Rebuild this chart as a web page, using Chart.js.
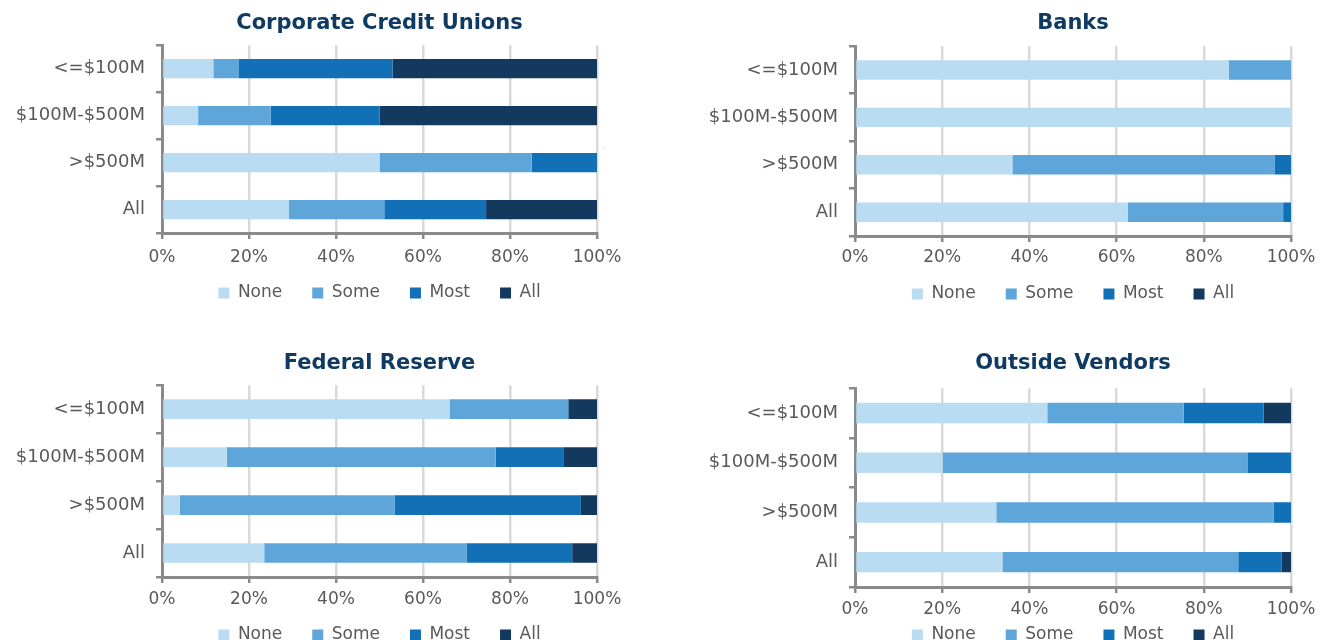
<!DOCTYPE html>
<html>
<head>
<meta charset="utf-8">
<script src="https://cdn.jsdelivr.net/npm/chart.js@4.4.0/dist/chart.umd.min.js"></script>
<style>
  body { margin: 0; background: #fff; overflow: hidden; }
  .box { position: absolute; }
</style>
</head>
<body>
<div class="box" style="left:0;top:0;width:667px;height:340px"><canvas id="ccuChart"></canvas></div>
<div class="box" style="left:667px;top:0;width:668px;height:340px"><canvas id="banksChart"></canvas></div>
<div class="box" style="left:0;top:340px;width:667px;height:340px"><canvas id="fedChart"></canvas></div>
<div class="box" style="left:667px;top:340px;width:668px;height:340px"><canvas id="vendorChart"></canvas></div>
<script>
// Asset size groups and answer options
const categories = ['<=$100M', '$100M-$500M', '>$500M', 'All'];
const seriesNames = ['None', 'Some', 'Most', 'All'];
const xTicks = [0, 20, 40, 60, 80, 100];

// Corporate Credit Unions (% of respondents)
const ccuNone = [11.8, 8.3, 50.0, 29.2];
const ccuSome = [5.9, 16.7, 35.0, 21.9];
const ccuMost = [35.3, 25.0, 15.0, 23.4];
const ccuAll = [47.0, 50.0, 0, 25.5];

// Banks
const banksNone = [85.7, 100, 36.1, 62.6];
const banksSome = [14.3, 0, 60.1, 35.6];
const banksMost = [0, 0, 3.8, 1.8];
const banksAll = [0, 0, 0, 0];

// Federal Reserve
const fedNone = [66.1, 14.9, 4.1, 23.5];
const fedSome = [27.3, 61.8, 49.4, 46.5];
const fedMost = [0, 15.7, 42.8, 24.3];
const fedAll = [6.6, 7.6, 3.7, 5.7];

// Outside Vendors
const vendNone = [44.1, 20.1, 32.4, 33.8];
const vendSome = [31.3, 69.9, 63.6, 54.1];
const vendMost = [18.3, 10.0, 4.0, 10.0];
const vendAll = [6.3, 0, 0, 2.1];

const colors = ['#badcf3', '#5ea6da', '#1270b7', '#13395f'];
const axisGray = '#8a8a8a';
const textGray = '#595959';

Chart.defaults.font.family = '"DejaVu Sans", sans-serif';
Chart.defaults.animation = false;
Chart.defaults.responsive = true;
Chart.defaults.maintainAspectRatio = false;

// title and legend are centred over the plot area, like the Excel original,
// and the legend row is moved up to sit just under the tick labels
const centerOnArea = {
    id: 'centerOnArea',
    afterLayout(chart, args, opts) {
        const a = chart.chartArea;
        [chart.titleBlock, chart.legend].forEach(b => {
            if (b) {
                b.left = a.left;
                b.right = a.right;
                b.width = a.right - a.left;
            }
        });
        if (chart.legend && opts.legendY) {
            const h = chart.legend.height;
            chart.legend.top = opts.legendY - 36.5;
            chart.legend.bottom = chart.legend.top + h;
        }
    }
};

function makeChart(canvasId, title, values, lay) {
    const datasets = values.map((vals, i) => ({
        label: seriesNames[i],
        data: vals,
        backgroundColor: colors[i],
        borderWidth: 0,
        categoryPercentage: 1,
        barPercentage: 0.41
    }));

    new Chart(document.getElementById(canvasId), {
        type: 'bar',
        data: { labels: categories, datasets: datasets },
        plugins: [centerOnArea],
        options: {
            indexAxis: 'y',
            layout: { padding: { left: 0, right: lay.right, top: 0, bottom: lay.bottom } },
            plugins: {
                centerOnArea: { legendY: lay.legendY },
                title: {
                    display: true,
                    text: title,
                    color: '#0f3b63',
                    font: { size: 21, weight: 'bold' },
                    padding: { top: lay.titleTop, bottom: lay.titleBottom }
                },
                legend: {
                    position: 'bottom',
                    labels: {
                        boxWidth: 11,
                        boxHeight: 11,
                        padding: 30,
                        color: textGray,
                        font: { size: 17 }
                    }
                },
                tooltip: { enabled: false }
            },
            scales: {
                x: {
                    stacked: true,
                    min: 0,
                    max: 100,
                    afterBuildTicks: axis => { axis.ticks = xTicks.map(v => ({ value: v })); },
                    afterFit: axis => { axis.height = lay.xHeight; },
                    ticks: {
                        color: textGray,
                        font: { size: 17 },
                        padding: lay.tickPad,
                        maxRotation: 0,
                        callback: v => v + '%'
                    },
                    grid: {
                        color: '#d9d9d9',
                        lineWidth: 2.5,
                        tickColor: axisGray,
                        tickLength: 6
                    },
                    border: { color: axisGray, width: 3 }
                },
                y: {
                    stacked: true,
                    afterFit: axis => { axis.width = lay.yWidth; },
                    ticks: {
                        color: textGray,
                        font: { size: 18 },
                        padding: 11
                    },
                    grid: {
                        drawOnChartArea: false,
                        color: axisGray,
                        lineWidth: 2.5,
                        tickLength: 6
                    },
                    border: { color: axisGray, width: 3 }
                }
            }
        }
    });
}

makeChart('ccuChart', 'Corporate Credit Unions', [ccuNone, ccuSome, ccuMost, ccuAll],
    { yWidth: 162, right: 70, titleTop: 11, titleBottom: 9, xHeight: 38, tickPad: 8, bottom: 12, legendY: 291 });
makeChart('banksChart', 'Banks', [banksNone, banksSome, banksMost, banksAll],
    { yWidth: 188, right: 44, titleTop: 11, titleBottom: 10, xHeight: 38, tickPad: 5, bottom: 9, legendY: 292 });
makeChart('fedChart', 'Federal Reserve', [fedNone, fedSome, fedMost, fedAll],
    { yWidth: 162, right: 70, titleTop: 11, titleBottom: 9, xHeight: 38, tickPad: 6, bottom: 8, legendY: 293 });
makeChart('vendorChart', 'Outside Vendors', [vendNone, vendSome, vendMost, vendAll],
    { yWidth: 188, right: 44, titleTop: 11, titleBottom: 12, xHeight: 36, tickPad: 6, bottom: 0, legendY: 293 });
</script>
</body>
</html>
